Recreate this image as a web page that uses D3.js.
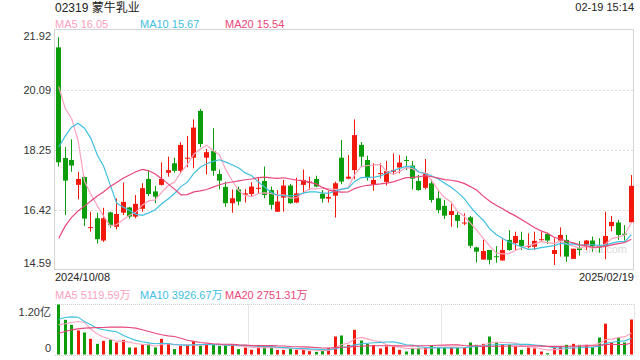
<!DOCTYPE html>
<html><head><meta charset="utf-8">
<script src="https://cdn.jsdelivr.net/npm/d3@7"></script>
<style>
html,body{margin:0;padding:0;background:#fff;}
svg{display:block;font-family:"Liberation Sans","Noto Sans CJK SC",Arial,sans-serif;}
</style></head><body>
<svg id="c" width="640" height="360"></svg>
<script>
// ---- data ----
const title = "02319 蒙牛乳业";
const stamp = "02-19 15:14";
const dateLabels = ["2024/10/08", "2025/02/19"];
const priceTicks = [21.92, 20.09, 18.25, 16.42, 14.59];
const volTickVals = [12000, 0];
const volTickLabels = ["1.20亿", "0"];
const priceLegend = [["MA5", "16.05"], ["MA10", "15.67"], ["MA20", "15.54"]];
const volLegend = [["MA5", "5119.59万"], ["MA10", "3926.67万"], ["MA20", "2751.31万"]];

const opens  = [21.39,18.01,17.95,17.19,17.43,15.87,16.17,15.49,16.35,15.91,16.34,16.50,16.22,16.46,17.37,16.99,17.19,17.56,17.85,17.62,
                17.99,18.02,19.45,18.02,18.22,17.52,17.13,16.63,17.05,16.89,16.91,17.07,17.31,17.03,16.37,16.80,17.17,16.65,17.19,17.25,
                17.37,16.92,16.77,16.86,18.02,17.38,17.64,18.41,17.95,17.20,17.53,17.28,17.59,17.72,17.95,17.78,17.31,17.10,17.24,16.78,
                16.55,16.27,16.27,16.01,16.20,15.28,14.91,15.20,15.01,14.88,15.51,15.41,15.51,15.30,15.30,15.51,15.69,15.08,15.49,15.51,
                14.93,15.25,15.35,15.49,15.31,15.32,15.93,16.04,15.70,16.05];
const highs  = [21.70,18.34,18.58,17.59,17.44,16.37,16.34,16.49,16.37,16.78,17.26,16.52,16.88,17.24,17.64,17.16,17.88,18.05,18.02,18.49,
                18.68,19.19,19.51,18.29,18.92,17.66,17.29,17.05,17.14,17.06,17.27,17.41,17.75,17.14,17.03,17.34,17.22,17.41,17.66,17.44,
                17.47,17.03,17.00,17.29,18.56,18.10,19.19,18.50,18.08,17.85,17.85,17.92,18.15,18.10,18.07,17.92,17.49,17.98,17.36,17.00,
                16.73,16.61,16.39,16.32,16.24,15.30,15.51,15.20,15.32,15.53,15.81,15.76,15.76,15.71,15.76,15.76,15.73,15.56,15.89,15.66,
                15.24,15.47,15.51,15.61,15.56,16.37,16.24,16.12,15.96,17.49];
const lows   = [17.75,16.27,17.59,16.75,15.93,15.76,15.40,15.45,15.88,15.83,16.27,16.16,16.17,16.37,16.85,16.63,17.17,17.44,17.56,17.56,
                17.73,17.70,18.34,17.51,17.47,17.05,16.52,16.34,16.56,16.65,16.83,16.93,16.78,16.44,16.37,16.37,16.61,16.63,16.93,17.03,
                17.12,16.65,16.65,16.19,17.21,17.36,17.36,17.77,17.32,17.01,17.39,17.17,17.52,17.54,17.64,17.05,17.01,17.05,16.65,16.32,
                16.15,15.91,15.88,15.96,15.25,14.82,14.90,14.76,14.81,14.88,15.18,15.18,15.20,15.25,15.20,15.49,15.38,14.74,15.00,14.84,
                14.93,15.03,15.20,15.15,15.12,14.92,15.77,15.51,15.49,16.04];
const closes = [17.88,17.32,17.78,17.37,16.16,15.90,15.53,16.17,15.96,16.30,16.67,16.22,16.61,17.09,16.91,16.83,17.37,17.64,17.62,18.41,
                18.02,18.94,18.44,18.19,17.62,17.32,16.63,16.78,16.68,16.93,17.14,17.10,16.88,16.58,16.68,17.17,16.63,16.93,17.34,17.29,
                17.14,16.77,16.82,17.24,17.29,17.44,18.71,18.05,17.42,17.34,17.55,17.61,17.64,17.87,17.92,17.38,17.03,17.54,16.73,16.42,
                16.25,16.39,16.09,16.04,15.33,15.15,15.17,14.90,14.99,15.20,15.20,15.63,15.32,15.32,15.48,15.53,15.49,15.20,15.66,15.00,
                15.24,15.20,15.49,15.32,15.29,15.63,16.06,15.66,15.68,17.16];
// volumes in 万 shares
const volumes = [12000,8320,7120,5760,5280,3760,2560,3280,3520,2880,3520,1680,1680,2400,2560,1680,3760,2560,1300,2060,
                 2340,3140,2060,2420,2420,2060,2220,2340,1300,1660,1140,1660,2140,1900,1100,1100,1360,1120,1120,800,
                 640,880,1520,4320,4560,2320,5920,3360,2560,2240,1440,1920,1920,1120,720,1600,1600,1600,2240,1680,
                 1680,1680,1680,1680,2880,2320,2560,4320,2880,2320,2320,1920,1120,1680,1440,720,320,1680,1920,2320,
                 2560,2320,2320,1760,4080,7400,2880,4160,2880,8400];
// moving-average values at the left edge (their windows reach before the first visible day)
const ma5Head  = [20.19,19.53,19.22,18.56];
const ma10Head = [18.34,18.68,18.95,19.07,18.92,18.61,18.10,17.75,17.19];
const ma20Head = [15.56,15.93,16.20,16.39,16.54,16.70,16.85,16.98,17.14,17.26,17.39,17.49,17.59,17.66,17.62,17.52,17.38,17.22,17.06];
const vma5Head  = [7120,7360,7680,7920];
const vma10Head = [8480,8880,9040,8960,7920,7120,6320,5920,5680];
const vma20Head = [5120,5520,5920,6160,6320,6400,6480,6480,6560,6560,6560,6480,6320,5920,5520,5120,4720,4480,4320];

// ---- styles ----
const RED = "#f2190c", GREEN = "#0b9d0b";
const C5 = "#fca2be", C10 = "#3fc0de", C20 = "#e9467a";
const maColors = [C5, C10, C20];

const svg = d3.select("#c");
const L = 55, R = 634, PT = 30, PB = 270, VT = 304.5, VB = 354.5;
const n = closes.length;

const x = d3.scaleBand().domain(d3.range(n)).range([L, R]);
const cx = i => x(i) + x.bandwidth() / 2;
const y = d3.scaleLinear().domain([priceTicks[4], priceTicks[0]]).range([PB, PT]);
const yv = d3.scaleLinear().domain([0, volTickVals[0]]).range([VB, VT]);

function ma(arr, k, head) {
  return arr.map((v, i) => i < k - 1 ? head[i] : d3.mean(arr.slice(i - k + 1, i + 1)));
}

// header
svg.append("text").attr("x", 55).attr("y", 11.5).attr("font-size", 12).attr("fill", "#222").text(title);
svg.append("text").attr("x", 634).attr("y", 11).attr("text-anchor", "end").attr("font-size", 11).attr("fill", "#222").text(stamp);
const legX = [55, 140, 225];
priceLegend.forEach((d, i) => svg.append("text").attr("x", legX[i]).attr("y", 28).attr("font-size", 11)
  .attr("fill", maColors[i]).text(d[0] + " " + d[1]));
volLegend.forEach((d, i) => svg.append("text").attr("x", legX[i]).attr("y", 299).attr("font-size", 11)
  .attr("fill", maColors[i]).text(d[0] + " " + d[1]));

// price grid
svg.append("g").selectAll("line").data(priceTicks.slice(1, 4)).join("line")
  .attr("x1", L).attr("x2", R).attr("y1", d => Math.round(y(d)) + 0.5).attr("y2", d => Math.round(y(d)) + 0.5)
  .attr("stroke", "#dcdcdc").attr("stroke-dasharray", "2,2");
svg.append("rect").attr("x", L - 0.5).attr("y", PT - 0.5).attr("width", R - L).attr("height", PB - PT)
  .attr("fill", "none").attr("stroke", "#d4d4d4");

// price tick labels
svg.append("g").selectAll("text").data(priceTicks).join("text")
  .attr("x", 51).attr("text-anchor", "end").attr("font-size", 11).attr("fill", "#333")
  .attr("y", d => Math.min(Math.max(y(d), PT + 6), PB - 7) + 4).text(d => d.toFixed(2));

// watermark
svg.append("text").attr("x", 583).attr("y", 253).attr("font-size", 11).attr("fill", "#d9d9d9").text("sina.com");

// candles
const bw = 5;
const cg = svg.append("g");
d3.range(n).forEach(i => {
  const up = closes[i] >= opens[i];
  const col = up ? RED : GREEN;
  const xc = Math.round(cx(i)) ;
  cg.append("line").attr("x1", xc + 0.5).attr("x2", xc + 0.5).attr("y1", y(highs[i])).attr("y2", y(lows[i]))
    .attr("stroke", col).attr("stroke-width", 1);
  const top = y(Math.max(opens[i], closes[i])), bot = y(Math.min(opens[i], closes[i]));
  cg.append("rect").attr("x", xc - 2).attr("width", bw).attr("y", top).attr("height", Math.max(1, bot - top)).attr("fill", col);
});

// price MA lines
const line = d3.line().x((d, i) => cx(i) + 0.5).y(d => y(d));
[ma(closes, 5, ma5Head), ma(closes, 10, ma10Head), ma(closes, 20, ma20Head)].forEach((s, k) =>
  svg.append("path").attr("d", line(s)).attr("fill", "none").attr("stroke", maColors[k]).attr("stroke-width", 1.2));

// date labels
svg.append("text").attr("x", 55).attr("y", 281).attr("font-size", 11).attr("fill", "#222").text(dateLabels[0]);
svg.append("text").attr("x", 634).attr("y", 281).attr("text-anchor", "end").attr("font-size", 11).attr("fill", "#222").text(dateLabels[1]);

// volume grid
const vg = svg.append("g").attr("stroke", "#cfcfcf").attr("stroke-dasharray", "1,1");
vg.append("line").attr("x1", L).attr("x2", R).attr("y1", VT).attr("y2", VT);
vg.append("line").attr("x1", L).attr("x2", R).attr("y1", VB + 1).attr("y2", VB + 1);
[L + (R - L) / 3, L + 2 * (R - L) / 3, R - 0.5].forEach(v =>
  vg.append("line").attr("x1", Math.round(v) + 0.5).attr("x2", Math.round(v) + 0.5).attr("y1", VT).attr("y2", VB));

svg.append("g").selectAll("text").data(volTickVals).join("text")
  .attr("x", 51).attr("text-anchor", "end").attr("font-size", 11).attr("fill", "#333")
  .attr("y", (d, i) => Math.min(Math.max(yv(d), VT + 7), VB - 7) + 4).text((d, i) => volTickLabels[i]);

// volume bars
svg.append("g").selectAll("rect").data(volumes).join("rect")
  .attr("x", (d, i) => Math.round(cx(i)) - 1).attr("width", 3)
  .attr("y", d => yv(d)).attr("height", d => VB - yv(d))
  .attr("fill", (d, i) => closes[i] >= opens[i] ? RED : GREEN);

// volume MA lines
const vline = d3.line().x((d, i) => cx(i) + 0.5).y(d => yv(d));
[ma(volumes, 5, vma5Head), ma(volumes, 10, vma10Head), ma(volumes, 20, vma20Head)].forEach((s, k) =>
  svg.append("path").attr("d", vline(s)).attr("fill", "none").attr("stroke", maColors[k]).attr("stroke-width", 1.1));
</script>
</body></html>
